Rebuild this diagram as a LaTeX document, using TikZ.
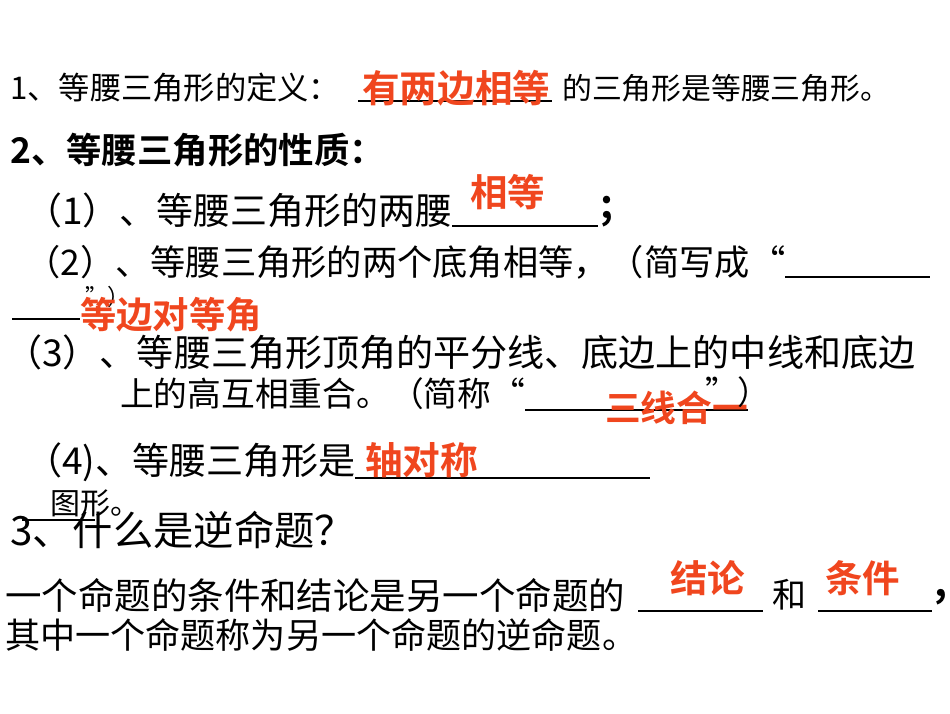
\documentclass[tikz,border=0pt]{standalone}
\usepackage{fontspec,graphicx}
\newfontfamily\cjk{Noto Sans CJK SC}[BoldFont={* Bold}]
\definecolor{rd}{RGB}{240,70,30}
\tikzset{x=1pt,y=-1pt,
 t/.style={anchor=west,inner sep=0pt,font=\cjk\fontsize{26}{26}\selectfont},
 r/.style={t,text=rd,font=\cjk\bfseries\fontsize{28}{28}\selectfont},
 p/.style={t,font=\cjk\bfseries\fontsize{40}{40}\selectfont},
 u/.style={line width=1.2pt}}
\newcommand\W[2]{\resizebox{#1pt}{!}{#2}}
\begin{document}
\begin{tikzpicture}
\useasboundingbox[fill=white] (0,0) rectangle (950,713);
% 1
\node[t] (a1) at (10,88) {\W{330}{1、等腰三角形的定义：}};
\draw[u] (358,101) -- (552,101);
\node[r] (r1) at (362,88) {\W{188}{有两边相等}};
\node[t] (a2) at (562,88) {\W{328}{的三角形是等腰三角形。}};
% 2
\node[t] (b) at (10,150) {\W{375}{\bfseries 2、等腰三角形的性质：}};
% (1)
\node[t] (c1) at (25,210) {\W{427}{（1）、等腰三角形的两腰}};
\draw[u] (452,226) -- (598,226);
\node[p] (c2) at (600,212) {;};
\node[r] (rc) at (470,192) {\W{75}{相等}};
% (2)
\node[t] (d1) at (25,262) {\W{760}{（2）、等腰三角形的两个底角相等，（简写成“}};
\draw[u] (785,277) -- (930,277);
\draw[u] (12,319) -- (80,319);
\node[t] (d2) at (85,297) {\W{45}{”）}};
\node[r] (rd) at (80,315) {\W{182}{等边对等角}};
% (3)
\node[t] (e1) at (5,352) {\W{910}{（3）、等腰三角形顶角的平分线、底边上的中线和底边}};
\node[t] (e2) at (120,394) {\W{405}{上的高互相重合。（简称“}};
\draw[u] (525,410) -- (748,410);
\node[r] (re) at (605,408) {\W{143}{三线合一}};
\node[t] (e3) at (705,392) {\W{65}{”）}};
% (4)
\node[t] (f1) at (25,462) {\W{330}{（4)、等腰三角形是}};
\draw[u] (355,478) -- (650,478);
\node[r] (rf) at (365,460) {\W{113}{轴对称}};
\draw[u] (22,520) -- (95,520);
\node[t] (f2) at (50,503) {\W{90}{图形。}};
% 3
\node[t] (g) at (10,530) {\W{345}{\fontsize{32}{32}\selectfont 3、什么是逆命题？}};
\node[t] (h1) at (5,595) {\W{620}{一个命题的条件和结论是另一个命题的}};
\draw[u] (638,611) -- (763,611);
\node[t] (h2) at (772,595) {\W{34}{和}};
\draw[u] (818,611) -- (932,611);
\node[p] (h3) at (934,597) {,};
\node[r] (rh1) at (670,578) {\W{75}{结论}};
\node[r] (rh2) at (825,578) {\W{75}{条件}};
\node[t] (h4) at (5,635) {\W{632}{其中一个命题称为另一个命题的逆命题。}};
\end{tikzpicture}
\end{document}
